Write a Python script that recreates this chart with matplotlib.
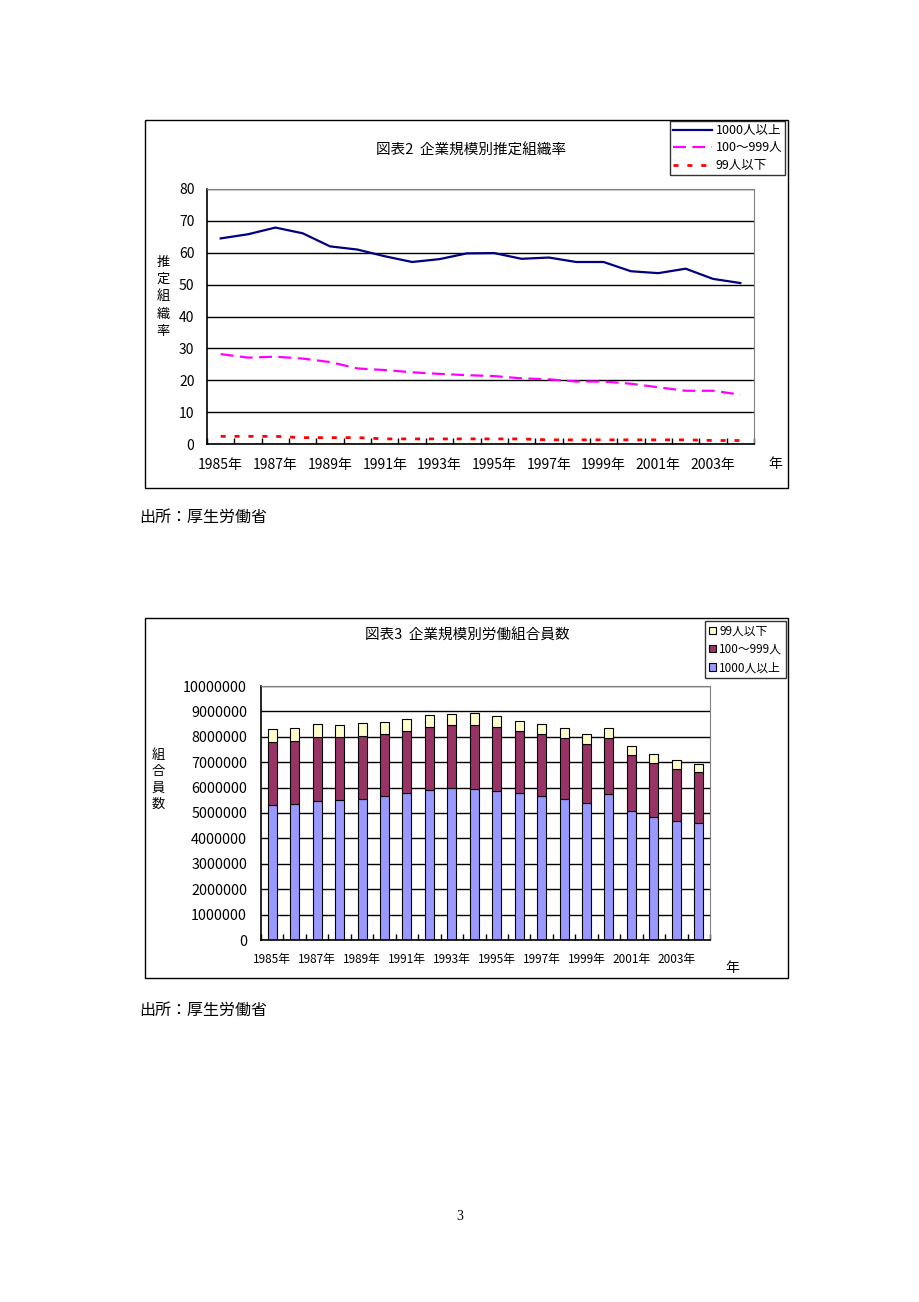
import matplotlib
matplotlib.use("Agg")
import matplotlib.pyplot as plt
from matplotlib.patches import Rectangle
import numpy as np

plt.rcParams['font.family'] = ['Noto Sans CJK JP', 'DejaVu Sans']

years = list(range(1985, 2005))
year_labels = [f"{y}年" if (y - 1985) % 2 == 0 else "" for y in years]

# 図表2 推定組織率 (%)
rate_large = [64.5, 65.8, 67.9, 66.1, 62.0, 61.0, 58.9, 57.1, 58.0, 59.8,
              59.9, 58.1, 58.5, 57.1, 57.1, 54.2, 53.6, 55.0, 51.8, 50.5]
rate_mid = [28.2, 27.1, 27.4, 26.8, 25.7, 23.7, 23.2, 22.5, 22.0, 21.6,
            21.3, 20.6, 20.3, 19.6, 19.6, 18.9, 17.8, 16.7, 16.7, 15.5]
rate_small = [2.4, 2.4, 2.4, 2.0, 2.0, 2.0, 1.6, 1.6, 1.6, 1.6,
              1.6, 1.6, 1.3, 1.3, 1.3, 1.3, 1.3, 1.3, 1.1, 1.1]

# 図表3 労働組合員数 (cumulative tops)
members_large = [5300000, 5340000, 5470000, 5520000, 5560000, 5660000, 5770000, 5910000, 5970000, 5930000,
                 5850000, 5770000, 5680000, 5560000, 5390000, 5730000, 5070000, 4840000, 4690000, 4610000]
top_mid = [7780000, 7820000, 7990000, 7990000, 8030000, 8110000, 8240000, 8390000, 8460000, 8460000,
           8390000, 8220000, 8120000, 7950000, 7700000, 7950000, 7300000, 6970000, 6730000, 6610000]
top_total = [8290000, 8350000, 8500000, 8460000, 8540000, 8580000, 8710000, 8850000, 8880000, 8940000,
             8810000, 8620000, 8500000, 8350000, 8100000, 8350000, 7650000, 7310000, 7090000, 6930000]
members_mid = [m - l for m, l in zip(top_mid, members_large)]
members_small = [t - m for t, m in zip(top_total, top_mid)]

W, H = 920, 1302
fig = plt.figure(figsize=(W / 100, H / 100), dpi=100)
fig.patch.set_facecolor('white')

def fx(x):
    return x / W

def fy(y):
    return 1 - y / H

def add_ax(x0, y0, x1, y1, **kw):
    return fig.add_axes([fx(x0), fy(y1), fx(x1) - fx(x0), fy(y0) - fy(y1)], **kw)

def frame(x0, y0, x1, y1):
    fig.add_artist(Rectangle((fx(x0), fy(y1)), fx(x1) - fx(x0), fy(y0) - fy(y1),
                             transform=fig.transFigure, fill=False, edgecolor='black', lw=1.0))

def style_axes(ax, n):
    ax.set_xlim(-0.5, n - 0.5)
    ax.set_xticks(np.arange(n))
    ax.set_xticks(np.arange(n + 1) - 0.5, minor=True)
    ax.tick_params(axis='x', which='major', length=0)
    ax.tick_params(axis='x', which='minor', direction='in', length=4, width=1, color='black')
    ax.tick_params(axis='y', length=0)
    for s in ['top', 'right']:
        ax.spines[s].set_color('#808080')
    for s in ['left', 'bottom']:
        ax.spines[s].set_color('black')
        ax.spines[s].set_linewidth(1.2)
    ax.grid(axis='y', color='black', lw=1.0)
    ax.set_axisbelow(True)

x = np.arange(len(years))

# ---------------- Chart 1 ----------------
frame(145, 120, 788, 488)
ax1 = add_ax(207, 189, 754, 444)
ax1.plot(x, rate_large, color='#000080', lw=1.6, label='1000人以上')
ax1.plot(x, rate_mid, color='#FF00FF', lw=1.6, dashes=(5.8, 2.9), label='100～999人')
ax1.plot(x, rate_small, color='#FF0000', lw=2.0, dashes=(1.8, 3.2), label='99人以下')
ax1.set_ylim(0, 80)
ax1.set_yticks(range(0, 81, 10))
style_axes(ax1, len(years))
ax1.set_xticklabels(year_labels, fontsize=10)
ax1.tick_params(axis='x', which='major', pad=10)
ax1.tick_params(axis='y', labelsize=10, pad=9)
fig.text(fx(471), fy(151), '図表2  企業規模別推定組織率', ha='center', va='center', fontsize=10.5)
fig.text(fx(163), fy(297), '推\n定\n組\n織\n率', ha='center', va='center', fontsize=9.5, linespacing=1.45)
fig.text(fx(775), fy(464), '年', ha='center', va='center', fontsize=10)
leg1 = ax1.legend(loc='upper left', bbox_to_anchor=(fx(670), fy(121)), bbox_transform=fig.transFigure,
                  frameon=True, fancybox=False, edgecolor='black', fontsize=9, handlelength=3.1,
                  handletextpad=0.3, borderpad=0.25, labelspacing=0.35, borderaxespad=0)
leg1.get_frame().set_linewidth(1.0)

# ---------------- Chart 2 ----------------
frame(145, 618, 788, 978)
ax2 = add_ax(261, 686, 710, 940)
bw = 0.4
ax2.bar(x, members_large, bw, color='#9999FF', edgecolor='black', lw=0.8, label='1000人以上')
ax2.bar(x, members_mid, bw, bottom=members_large, color='#993366', edgecolor='black', lw=0.8, label='100～999人')
ax2.bar(x, members_small, bw, bottom=top_mid, color='#FFFFCC', edgecolor='black', lw=0.8, label='99人以下')
ax2.set_ylim(0, 10000000)
ax2.set_yticks(range(0, 10000001, 1000000))
ax2.set_yticklabels([str(v) for v in range(0, 10000001, 1000000)])
style_axes(ax2, len(years))
ax2.set_xticklabels(year_labels, fontsize=8.5)
ax2.tick_params(axis='x', which='major', pad=9)
ax2.tick_params(axis='y', labelsize=10.3, pad=10)
fig.text(fx(467), fy(636), '図表3  企業規模別労働組合員数', ha='center', va='center', fontsize=10.5)
fig.text(fx(158), fy(780), '組\n合\n員\n数', ha='center', va='center', fontsize=9.5, linespacing=1.35)
fig.text(fx(732), fy(968), '年', ha='center', va='center', fontsize=10)
h, l = ax2.get_legend_handles_labels()
leg2 = ax2.legend(h[::-1], l[::-1], loc='upper left', bbox_to_anchor=(fx(705), fy(621)),
                  bbox_transform=fig.transFigure, frameon=True, fancybox=False, edgecolor='black',
                  fontsize=8.5, handlelength=0.6, handleheight=0.6, handletextpad=0.3,
                  borderpad=0.3, labelspacing=0.45, borderaxespad=0)
leg2.get_frame().set_linewidth(1.0)

# ---------------- page text ----------------
fig.text(fx(139), fy(517), '出所：厚生労働省', ha='left', va='center', fontsize=11.5)
fig.text(fx(139), fy(1010), '出所：厚生労働省', ha='left', va='center', fontsize=11.5)
fig.text(fx(460), fy(1216), '3', ha='center', va='center', fontsize=10, family='Liberation Serif')

fig.savefig('out.png', dpi=100, facecolor='white')
